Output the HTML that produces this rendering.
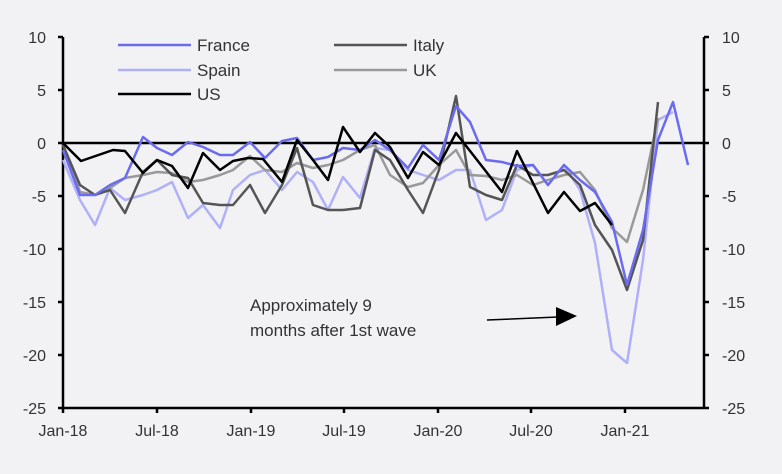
<!DOCTYPE html>
<html><head><style>
html,body{margin:0;padding:0;background:#f2f2f5;}
svg{display:block;font-family:"Liberation Sans",sans-serif;}
</style></head><body>
<svg width="782" height="474" viewBox="0 0 782 474">
<rect width="782" height="474" fill="#f2f2f5"/>
<g font-size="16" fill="#333">
<text x="46" y="43" text-anchor="end">10</text>
<text x="46" y="96" text-anchor="end">5</text>
<text x="46" y="149" text-anchor="end">0</text>
<text x="46" y="202" text-anchor="end">-5</text>
<text x="46" y="255" text-anchor="end">-10</text>
<text x="46" y="308" text-anchor="end">-15</text>
<text x="46" y="361" text-anchor="end">-20</text>
<text x="46" y="414" text-anchor="end">-25</text>
<text x="722" y="43">10</text>
<text x="722" y="96">5</text>
<text x="722" y="149">0</text>
<text x="722" y="202">-5</text>
<text x="722" y="255">-10</text>
<text x="722" y="308">-15</text>
<text x="722" y="361">-20</text>
<text x="722" y="414">-25</text>
<text x="63" y="436" text-anchor="middle">Jan-18</text>
<text x="157" y="436" text-anchor="middle">Jul-18</text>
<text x="251" y="436" text-anchor="middle">Jan-19</text>
<text x="344" y="436" text-anchor="middle">Jul-19</text>
<text x="438" y="436" text-anchor="middle">Jan-20</text>
<text x="531" y="436" text-anchor="middle">Jul-20</text>
<text x="625" y="436" text-anchor="middle">Jan-21</text>
</g>
<g stroke="#000" stroke-width="2.5" fill="none">
<line x1="63" y1="37" x2="63" y2="408"/>
<line x1="704" y1="37" x2="704" y2="408"/>
<line x1="63" y1="408" x2="704" y2="408"/>
<line x1="63" y1="143" x2="704" y2="143"/>
<path d="M58 37H63M58 90H63M58 143H63M58 196H63M58 249H63M58 302H63M58 355H63M58 408H63"/>
<path d="M704 37H709M704 90H709M704 143H709M704 196H709M704 249H709M704 302H709M704 355H709M704 408H709"/>
<path d="M63 408V413M157 408V413M251 408V413M344 408V413M438 408V413M531 408V413M625 408V413"/>
</g>
<g fill="none" stroke-width="2.5" stroke-linejoin="round">
<polyline stroke="#b0b0f8" points="63,160 80,200 95,225 110,188 125,200 143,195 157,190 172,182 188,218 203,205 220,228 233,190 250,175 265,170 282,190 297,172 313,182 328,210 343,177 360,198 375,148 390,150 408,170 423,175 439,180 456,170 470,170 486,220 502,210 517,170 533,165 548,185 564,165 580,190 595,243 612,350 627,363 643,260 658,120 673,112"/>
<polyline stroke="#999" points="63,145 80,192 95,195 110,188 125,178 143,175 157,172 172,173 188,182 203,180 220,175 233,170 250,156 265,170 282,172 297,163 313,168 328,165 343,160 360,150 375,145 390,175 408,187 423,183 439,165 456,150 470,175 486,176 502,180 517,175 533,185 548,180 564,175 580,172 595,190 612,228 627,242 643,190 658,118"/>
<polyline stroke="#555" points="63,145 80,185 95,195 110,190 125,213 143,172 157,160 172,175 188,178 203,203 220,205 233,205 250,185 265,213 282,185 297,148 313,205 328,210 343,210 360,208 375,150 390,160 408,190 423,213 439,170 456,96 470,187 486,195 502,200 517,165 533,175 548,175 564,170 580,185 595,225 612,250 627,290 643,240 658,102"/>
<polyline stroke="#6b6bf0" points="63,150 80,195 95,195 110,185 125,178 143,137 157,148 172,155 188,142 203,147 220,155 233,155 250,142 265,158 282,141 297,138 313,160 328,157 343,148 360,150 375,140 390,150 408,168 423,145 439,160 456,106 470,122 486,160 502,162 517,166 533,165 548,185 564,165 580,180 595,192 612,222 627,285 643,230 658,140 673,102 688,165"/>
<polyline stroke="#000" points="63,143 81,161 113,150 125,151 143,173 157,160 172,166 188,188 203,153 220,170 233,161 248,158 263,159 282,182 297,140 313,160 328,180 343,127 360,152 375,133 390,147 408,178 423,152 439,165 456,133 502,192 517,151 548,213 564,192 580,211 595,203 612,225"/>
</g>
<g stroke-width="2.5">
<line x1="118" y1="45" x2="191" y2="45" stroke="#6b6bf0"/>
<line x1="118" y1="70" x2="191" y2="70" stroke="#b0b0f8"/>
<line x1="118" y1="94" x2="191" y2="94" stroke="#000"/>
<line x1="334" y1="45" x2="407" y2="45" stroke="#555"/>
<line x1="334" y1="70" x2="407" y2="70" stroke="#999"/>
</g>
<g font-size="17" fill="#333">
<text x="197" y="51">France</text>
<text x="197" y="76">Spain</text>
<text x="197" y="100">US</text>
<text x="413" y="51">Italy</text>
<text x="413" y="76">UK</text>
<text x="250" y="311">Approximately 9</text>
<text x="250" y="336">months after 1st wave</text>
</g>
<line x1="487" y1="320" x2="558" y2="317" stroke="#000" stroke-width="1.5"/>
<polygon points="556,307 577,316 556,326" fill="#000"/>
</svg>
</body></html>
